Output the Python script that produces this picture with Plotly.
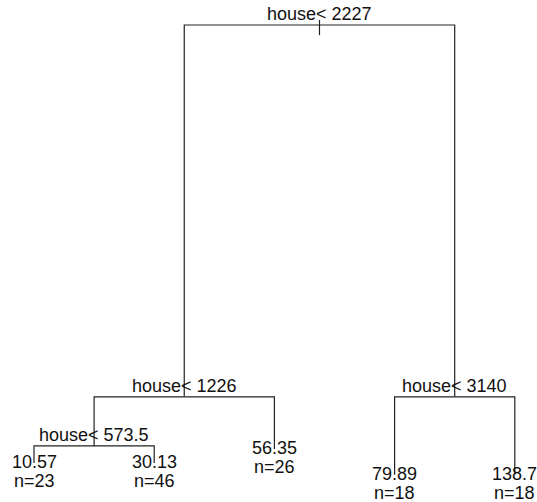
import plotly.graph_objects as go

# Regression tree (rpart-style): nodes numbered so that node k has children 2k and 2k+1
node_ids = [1, 2, 3, 4, 5, 6, 7, 8, 9]
# scaled branch heights (root = 1), from the deviance drop at each split
node_height = [1.0, 0.19, 0.19, 0.083, 0.076, 0.02, 0.02, 0.046, 0.046]

split_nodes = [1, 2, 3, 4]
split_var = ["house", "house", "house", "house"]
split_cut = [2227, 1226, 3140, 573.5]

leaf_nodes = [8, 9, 5, 6, 7]          # left-to-right order of terminal nodes
leaf_mean = [10.57, 30.13, 56.35, 79.89, 138.7]
leaf_n = [23, 46, 26, 18, 18]

FONT = "Liberation Sans, Arial, sans-serif"
FS = 18
INK = "#111111"
LINE = "#222222"

height = dict(zip(node_ids, node_height))
xpos = {nid: i for i, nid in enumerate(leaf_nodes)}


def place(nid):
    if nid in xpos:
        return xpos[nid]
    xpos[nid] = 0.5 * (place(2 * nid) + place(2 * nid + 1))
    return xpos[nid]


place(1)

# branches: horizontal at the parent's height, then down to each child
bx, by = [], []
for p in split_nodes:
    for c in (2 * p, 2 * p + 1):
        bx += [xpos[p], xpos[c], xpos[c], None]
        by += [height[p], height[p], height[c], None]
# short mark through the root node
bx += [xpos[1], xpos[1], None]
by += [height[1] + 0.011, height[1] - 0.022, None]

fig = go.Figure()
fig.add_trace(go.Scatter(x=bx, y=by, mode="lines",
                         line=dict(color=LINE, width=1.2),
                         hoverinfo="skip", showlegend=False))

ann = []
for nid, var, cut in zip(split_nodes, split_var, split_cut):
    ann.append(dict(x=xpos[nid], y=height[nid], text=f"{var}< {cut:.4g}",
                    yanchor="middle", xanchor="center", yshift=11,
                    showarrow=False, font=dict(family=FONT, size=FS, color=INK)))
for nid, m, n in zip(leaf_nodes, leaf_mean, leaf_n):
    ann.append(dict(x=xpos[nid], y=height[nid], text=f"{m:.4g}",
                    yanchor="middle", xanchor="center", yshift=1.3,
                    showarrow=False, font=dict(family=FONT, size=FS, color=INK)))
    ann.append(dict(x=xpos[nid], y=height[nid], text=f"n={n}",
                    yanchor="middle", xanchor="center", yshift=-17.7,
                    showarrow=False, font=dict(family=FONT, size=FS, color=INK)))

fig.update_layout(
    width=537, height=502,
    margin=dict(l=0, r=0, t=0, b=0),
    paper_bgcolor="white", plot_bgcolor="white",
    annotations=ann,
    xaxis=dict(range=[-0.2829, 4.1847], visible=False, fixedrange=True),
    yaxis=dict(range=[-0.03922, 1.05447], visible=False, fixedrange=True),
)

fig.write_html("out.html")
